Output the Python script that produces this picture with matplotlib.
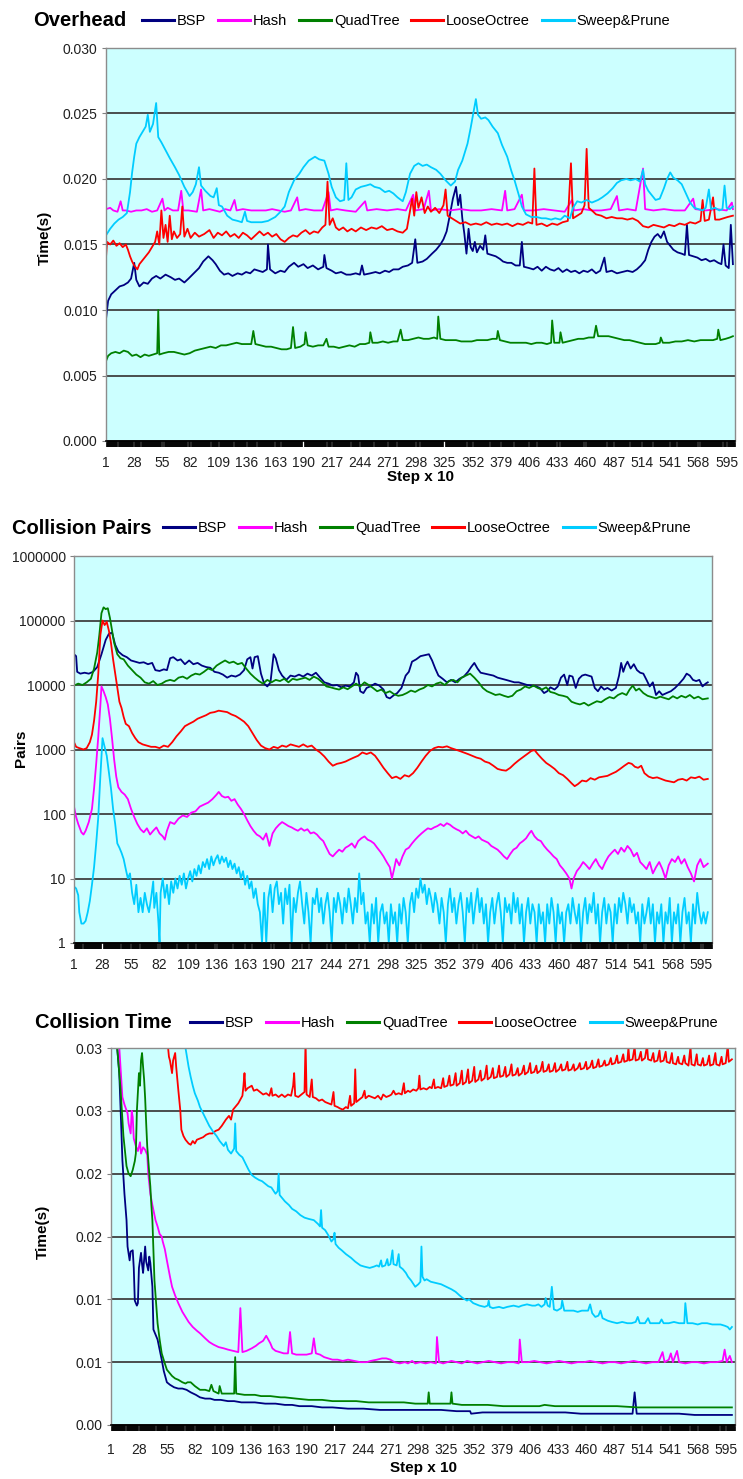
import matplotlib
matplotlib.use('Agg')
import matplotlib.pyplot as plt
from matplotlib import font_manager
from matplotlib.lines import Line2D
from matplotlib.ticker import FixedLocator, NullLocator

# ---------------------------------------------------------------- data
series_names = ['BSP', 'Hash', 'QuadTree', 'LooseOctree', 'Sweep&Prune']
series_colors = ['#000080', '#FF00FF', '#008000', '#FF0000', '#00CCFF']

step_ticks = list(range(1, 596, 27))  # 1, 28, 55, ... 595

# --- Overhead, Time(s)
ovh_yticks = [0.000, 0.005, 0.010, 0.015, 0.020, 0.025, 0.030]
ovh_yticklabels = ['0.000', '0.005', '0.010', '0.015', '0.020', '0.025', '0.030']

ovh_bsp = [(1, .0093), (3, .0107), (6, .0112), (10, .0115), (14, .0118), (18, .0119), (22, .0121), (25, .0124),
           (28, .0136), (30, .0123), (33, .0118), (37, .0121), (41, .0120), (45, .0124), (49, .0126), (53, .0124),
           (58, .0127), (63, .0125), (67, .0123), (71, .0124), (76, .0121), (80, .0124), (85, .0128), (90, .0132),
           (94, .0137), (99, .0141), (103, .0138), (106, .0135), (110, .0130), (114, .0127), (118, .0128),
           (122, .0126), (127, .0128), (131, .0127), (135, .0129), (139, .0128), (143, .0131), (147, .0130),
           (151, .0129), (155, .0131), (156, .0150), (158, .0131), (163, .0128), (168, .0130), (172, .0129),
           (176, .0133), (181, .0136), (185, .0133), (190, .0135), (194, .0132), (199, .0134), (204, .0131),
           (209, .0133), (210, .0142), (212, .0132), (217, .0130), (221, .0128), (226, .0129), (231, .0127),
           (235, .0127), (240, .0128), (244, .0127), (246, .0134), (248, .0127), (254, .0128), (259, .0129),
           (263, .0128), (268, .0130), (272, .0129), (276, .0131), (281, .0131), (285, .0133), (290, .0134),
           (294, .0136), (297, .0154), (299, .0136), (304, .0137), (308, .0139), (313, .0143), (317, .0146),
           (321, .0150), (324, .0154), (327, .0160), (330, .0172), (333, .0185), (336, .0194), (338, .0180),
           (340, .0188), (342, .0170), (344, .0158), (346, .0143), (348, .0162), (350, .0148), (352, .0145),
           (354, .0152), (356, .0144), (359, .0149), (362, .0146), (364, .0157), (366, .0143), (370, .0142),
           (374, .0141), (378, .0139), (381, .0137), (385, .0136), (389, .0136), (393, .0134), (397, .0134),
           (399, .0152), (401, .0133), (406, .0132), (410, .0131), (414, .0133), (418, .0130), (422, .0133),
           (426, .0131), (430, .0130), (434, .0132), (438, .0129), (442, .0131), (446, .0129), (450, .0130),
           (454, .0128), (458, .0130), (462, .0129), (466, .0131), (470, .0128), (474, .0130), (478, .0140),
           (480, .0129), (485, .0130), (490, .0128), (495, .0129), (500, .0130), (505, .0129), (509, .0131),
           (513, .0134), (517, .0138), (520, .0146), (523, .0152), (526, .0156), (529, .0158), (532, .0155),
           (535, .0160), (538, .0152), (541, .0149), (544, .0146), (548, .0144), (552, .0143), (555, .0142),
           (557, .0165), (559, .0142), (563, .0141), (567, .0140), (571, .0138), (575, .0139), (579, .0137),
           (583, .0138), (587, .0136), (590, .0135), (592, .0150), (594, .0134), (597, .0132), (599, .0165),
           (601, .0135)]

ovh_hash = [(1, .0177), (5, .0178), (8, .0176), (12, .0175), (15, .0183), (17, .0176), (20, .0176), (25, .0175),
            (30, .0176), (35, .0176), (40, .0177), (45, .0175), (50, .0176), (55, .0185), (57, .0176), (60, .0178),
            (65, .0176), (70, .0176), (73, .0191), (75, .0176), (80, .0176), (88, .0175), (92, .0192), (94, .0176),
            (100, .0177), (105, .0176), (110, .0175), (115, .0177), (120, .0176), (124, .0184), (126, .0176),
            (132, .0177), (140, .0176), (148, .0176), (154, .0176), (160, .0177), (166, .0176), (172, .0175),
            (178, .0176), (184, .0186), (186, .0176), (192, .0177), (200, .0176), (208, .0176), (214, .0190),
            (216, .0176), (222, .0177), (230, .0176), (240, .0175), (249, .0183), (251, .0176), (260, .0177),
            (270, .0176), (280, .0177), (288, .0176), (295, .0188), (297, .0176), (305, .0177), (310, .0191),
            (312, .0176), (320, .0177), (330, .0176), (340, .0177), (350, .0176), (360, .0176), (370, .0177),
            (380, .0176), (383, .0191), (385, .0176), (392, .0177), (399, .0188), (401, .0176), (410, .0176),
            (420, .0177), (430, .0176), (440, .0175), (447, .0184), (449, .0176), (458, .0177), (466, .0176),
            (475, .0176), (484, .0177), (490, .0187), (492, .0176), (500, .0177), (508, .0176), (515, .0208),
            (517, .0177), (525, .0176), (535, .0177), (545, .0176), (555, .0176), (563, .0185), (565, .0177),
            (575, .0176), (585, .0177), (595, .0176), (600, .0182), (601, .0177)]

ovh_quad = [(1, .0061), (3, .0065), (6, .0067), (10, .0068), (14, .0067), (18, .0069), (22, .0068), (26, .0065),
            (30, .0066), (34, .0064), (38, .0066), (42, .0065), (46, .0066), (50, .0067), (51, .0100), (52, .0066),
            (56, .0067), (61, .0068), (66, .0068), (71, .0067), (76, .0066), (81, .0067), (86, .0069), (91, .0070),
            (96, .0071), (101, .0072), (106, .0071), (111, .0073), (116, .0073), (121, .0074), (126, .0075),
            (131, .0074), (136, .0074), (140, .0074), (142, .0084), (144, .0074), (149, .0073), (154, .0072),
            (159, .0072), (164, .0071), (169, .0070), (174, .0070), (178, .0071), (180, .0087), (182, .0071),
            (187, .0072), (191, .0074), (192, .0083), (194, .0073), (199, .0072), (204, .0073), (209, .0073),
            (212, .0078), (214, .0072), (219, .0072), (224, .0071), (229, .0072), (234, .0073), (239, .0072),
            (244, .0074), (249, .0074), (253, .0075), (254, .0083), (256, .0075), (261, .0075), (266, .0076),
            (271, .0075), (276, .0076), (280, .0076), (283, .0085), (285, .0077), (290, .0077), (295, .0078),
            (300, .0079), (305, .0078), (310, .0078), (315, .0079), (318, .0078), (319, .0095), (321, .0078),
            (326, .0077), (331, .0077), (336, .0077), (341, .0076), (346, .0076), (351, .0076), (356, .0077),
            (361, .0077), (366, .0077), (371, .0078), (375, .0078), (376, .0084), (378, .0077), (383, .0076),
            (388, .0075), (393, .0075), (398, .0075), (403, .0075), (408, .0074), (413, .0075), (418, .0075),
            (423, .0074), (427, .0075), (428, .0092), (430, .0075), (435, .0075), (436, .0083), (438, .0075),
            (443, .0076), (448, .0077), (453, .0078), (458, .0078), (463, .0079), (468, .0079), (470, .0088),
            (472, .0080), (477, .0080), (482, .0080), (487, .0079), (492, .0078), (497, .0077), (502, .0077),
            (507, .0076), (512, .0075), (517, .0074), (522, .0074), (527, .0074), (531, .0075), (532, .0079),
            (534, .0075), (540, .0075), (546, .0076), (552, .0076), (558, .0077), (564, .0076), (570, .0077),
            (576, .0077), (582, .0077), (586, .0078), (587, .0085), (589, .0077), (594, .0078), (598, .0079),
            (601, .0080)]

ovh_loose = [(1, .0140), (2, .0152), (5, .0150), (8, .0153), (11, .0149), (14, .0151), (17, .0148), (20, .0150),
             (22, .0146), (24, .0141), (26, .0137), (28, .0134), (31, .0131), (33, .0135), (36, .0138), (39, .0141),
             (42, .0144), (45, .0148), (48, .0152), (50, .0160), (52, .0150), (54, .0176), (56, .0155), (58, .0165),
             (60, .0152), (62, .0172), (64, .0154), (66, .0160), (69, .0155), (72, .0158), (74, .0179), (76, .0156),
             (79, .0162), (82, .0155), (86, .0159), (90, .0156), (95, .0158), (100, .0161), (104, .0155),
             (108, .0159), (112, .0157), (116, .0160), (120, .0156), (124, .0158), (128, .0155), (132, .0159),
             (136, .0157), (140, .0154), (144, .0157), (148, .0160), (152, .0157), (156, .0159), (160, .0156),
             (164, .0158), (168, .0154), (172, .0152), (176, .0155), (180, .0157), (184, .0156), (188, .0159),
             (192, .0161), (196, .0158), (200, .0160), (204, .0159), (208, .0163), (211, .0165), (213, .0198),
             (215, .0165), (218, .0170), (221, .0163), (224, .0161), (228, .0163), (232, .0160), (236, .0162),
             (240, .0160), (245, .0163), (250, .0161), (255, .0163), (260, .0162), (265, .0164), (270, .0161),
             (275, .0162), (280, .0160), (285, .0159), (289, .0162), (292, .0176), (294, .0185), (296, .0172),
             (298, .0190), (300, .0178), (303, .0186), (306, .0174), (309, .0179), (312, .0175), (316, .0178),
             (320, .0174), (324, .0180), (326, .0192), (328, .0172), (332, .0170), (336, .0168), (340, .0166),
             (345, .0167), (350, .0165), (355, .0166), (360, .0165), (365, .0167), (370, .0165), (375, .0166),
             (380, .0165), (385, .0166), (390, .0164), (395, .0166), (400, .0165), (405, .0167), (409, .0166),
             (411, .0208), (413, .0165), (418, .0166), (423, .0164), (428, .0166), (433, .0165), (438, .0167),
             (443, .0168), (446, .0212), (448, .0170), (452, .0172), (456, .0174), (459, .0180), (461, .0223),
             (463, .0178), (466, .0176), (470, .0173), (475, .0172), (480, .0170), (485, .0171), (490, .0170),
             (495, .0170), (500, .0169), (505, .0170), (510, .0168), (515, .0164), (520, .0163), (525, .0165),
             (530, .0164), (535, .0163), (540, .0165), (545, .0164), (550, .0166), (555, .0165), (560, .0167),
             (565, .0166), (570, .0168), (572, .0184), (574, .0168), (578, .0169), (582, .0186), (584, .0169),
             (588, .0169), (592, .0170), (596, .0171), (601, .0172)]

ovh_sweep = [(1, .0157), (5, .0162), (9, .0166), (13, .0169), (17, .0171), (21, .0174), (24, .0190), (26, .0205),
             (28, .0217), (30, .0227), (33, .0232), (36, .0236), (39, .0240), (41, .0249), (43, .0236), (46, .0242),
             (49, .0258), (51, .0232), (54, .0228), (58, .0222), (62, .0216), (67, .0209), (71, .0203), (76, .0194),
             (81, .0187), (84, .0190), (87, .0196), (90, .0209), (92, .0195), (96, .0191), (101, .0187),
             (104, .0186), (107, .0193), (109, .0180), (112, .0179), (117, .0172), (122, .0169), (127, .0168),
             (131, .0167), (134, .0175), (136, .0168), (140, .0167), (145, .0167), (150, .0167), (156, .0168),
             (163, .0171), (168, .0175), (172, .0179), (176, .0190), (181, .0199), (186, .0204), (190, .0209),
             (195, .0214), (201, .0217), (205, .0215), (210, .0214), (214, .0204), (217, .0194), (221, .0186),
             (225, .0183), (229, .0184), (231, .0212), (233, .0184), (236, .0186), (240, .0192), (245, .0194),
             (250, .0195), (254, .0196), (258, .0194), (263, .0193), (268, .0190), (272, .0191), (276, .0189),
             (280, .0186), (285, .0183), (288, .0190), (292, .0204), (296, .0210), (300, .0212), (304, .0210),
             (308, .0211), (312, .0209), (317, .0207), (321, .0204), (326, .0199), (331, .0195), (335, .0198),
             (338, .0207), (342, .0214), (347, .0227), (350, .0239), (353, .0252), (355, .0261), (357, .0249),
             (360, .0246), (364, .0247), (367, .0245), (371, .0240), (376, .0235), (380, .0226), (385, .0217),
             (389, .0206), (392, .0199), (396, .0188), (399, .0179), (403, .0173), (408, .0171), (413, .0171),
             (418, .0170), (422, .0170), (427, .0169), (431, .0170), (436, .0169), (440, .0172), (445, .0170),
             (448, .0178), (452, .0183), (456, .0182), (461, .0184), (466, .0182), (472, .0184), (476, .0186),
             (481, .0189), (486, .0193), (490, .0197), (494, .0199), (499, .0200), (503, .0199), (508, .0200),
             (512, .0198), (515, .0207), (517, .0196), (520, .0191), (524, .0187), (527, .0184), (531, .0185),
             (535, .0193), (538, .0200), (541, .0205), (544, .0201), (548, .0199), (552, .0196), (556, .0189),
             (560, .0182), (564, .0178), (568, .0177), (572, .0176), (575, .0178), (578, .0192), (580, .0177),
             (584, .0178), (588, .0176), (591, .0177), (593, .0195), (595, .0178), (598, .0177), (601, .0179)]

# --- Collision Pairs (log scale)
pairs_yticks = [1, 10, 100, 1000, 10000, 100000, 1000000]
pairs_yticklabels = ['1', '10', '100', '1000', '10000', '100000', '1000000']

pairs_bsp = [(1, 30000), (3, 28000), (4, 16000), (7, 15000), (11, 15500), (15, 15000), (19, 16000), (23, 19000),
             (27, 30000), (31, 50000), (34, 62000), (37, 65000), (40, 42000), (43, 33000), (47, 29000),
             (51, 27000), (55, 24000), (59, 23000), (63, 22000), (67, 22500), (71, 21000), (75, 22000),
             (78, 17000), (82, 16500), (86, 17500), (89, 17000), (92, 26000), (95, 27000), (99, 24000),
             (102, 25000), (106, 21000), (110, 24000), (114, 21000), (118, 22000), (122, 20000), (126, 19000),
             (130, 18500), (134, 16000), (138, 15500), (142, 14500), (146, 13000), (150, 14000), (154, 13500),
             (158, 14500), (162, 17000), (165, 25000), (168, 27000), (170, 18000), (172, 27000), (175, 28000),
             (178, 15000), (181, 10500), (184, 9500), (187, 11000), (190, 30000), (192, 26000), (195, 17000),
             (198, 14000), (202, 12000), (206, 14000), (210, 13500), (214, 14500), (218, 13500), (222, 15000),
             (226, 14000), (230, 15500), (234, 13000), (238, 11000), (242, 10500), (246, 9800), (250, 10000),
             (254, 9200), (258, 9800), (262, 9500), (266, 11000), (268, 15500), (270, 14000), (272, 8000),
             (275, 7500), (278, 9000), (282, 9600), (286, 10500), (290, 9800), (294, 8500), (297, 6500),
             (300, 6200), (304, 7000), (307, 7500), (311, 9000), (315, 14000), (318, 16000), (321, 23000),
             (325, 25000), (329, 28000), (333, 29000), (337, 30000), (340, 24000), (343, 18000), (346, 14000),
             (350, 12500), (354, 11000), (358, 12000), (362, 11000), (366, 12500), (370, 13500), (374, 16000),
             (377, 19000), (380, 22000), (383, 18000), (386, 15500), (390, 15000), (394, 14500), (398, 14000),
             (402, 13000), (406, 12500), (410, 12000), (414, 11500), (418, 11000), (422, 11000), (426, 10500),
             (430, 10000), (434, 9800), (438, 9600), (442, 9000), (446, 7500), (449, 8000), (452, 9200),
             (456, 8500), (459, 9500), (462, 13000), (465, 14500), (468, 10000), (470, 14000), (473, 13500),
             (476, 9000), (479, 12500), (482, 14000), (485, 14500), (488, 14000), (491, 13500), (494, 9000),
             (497, 8000), (500, 9500), (503, 8500), (506, 9000), (510, 8200), (514, 9000), (517, 14000),
             (519, 22000), (521, 16000), (523, 20000), (525, 23000), (528, 18000), (531, 21000), (534, 17000),
             (537, 15500), (540, 15000), (543, 12000), (546, 9500), (549, 11000), (552, 7000), (555, 8000),
             (558, 7000), (562, 7500), (566, 8000), (570, 9000), (574, 10500), (578, 12500), (581, 15000),
             (584, 14000), (587, 12000), (590, 11500), (593, 12000), (596, 9500), (599, 10500), (601, 11000)]

pairs_hash = [(1, 130), (3, 90), (5, 70), (8, 52), (10, 48), (12, 55), (15, 75), (18, 120), (20, 250), (22, 600),
              (24, 1600), (26, 5000), (27, 9500), (29, 8000), (31, 6500), (33, 5000), (35, 3000), (37, 1500),
              (39, 700), (41, 380), (43, 260), (46, 220), (49, 200), (52, 170), (55, 120), (58, 90), (61, 70),
              (64, 58), (67, 52), (70, 60), (73, 48), (76, 55), (79, 62), (82, 50), (85, 45), (87, 40), (89, 55),
              (92, 75), (96, 70), (100, 85), (104, 95), (108, 90), (112, 105), (116, 110), (120, 130), (124, 140),
              (128, 150), (132, 170), (136, 200), (138, 220), (141, 190), (144, 180), (147, 185), (150, 160),
              (153, 170), (156, 140), (159, 120), (162, 100), (165, 80), (168, 65), (171, 55), (174, 48),
              (177, 45), (180, 40), (183, 50), (186, 32), (189, 50), (192, 60), (195, 68), (198, 75), (201, 70),
              (204, 65), (207, 62), (210, 58), (213, 55), (216, 60), (219, 55), (222, 58), (225, 50), (228, 52),
              (231, 48), (234, 42), (237, 38), (240, 30), (243, 24), (246, 22), (249, 25), (252, 28), (255, 26),
              (258, 30), (261, 32), (264, 35), (267, 30), (270, 38), (273, 42), (276, 45), (279, 40), (282, 38),
              (285, 35), (288, 30), (291, 26), (294, 22), (297, 18), (300, 15), (302, 10), (304, 14), (306, 20),
              (309, 16), (312, 22), (315, 28), (318, 30), (321, 35), (324, 40), (327, 45), (330, 50), (333, 55),
              (336, 60), (339, 58), (342, 62), (345, 65), (348, 70), (351, 65), (354, 72), (357, 68), (360, 62),
              (363, 58), (366, 55), (369, 50), (372, 55), (375, 48), (378, 45), (381, 42), (384, 45), (387, 40),
              (390, 38), (393, 36), (396, 32), (399, 30), (402, 28), (405, 25), (408, 22), (411, 20), (414, 24),
              (417, 28), (420, 30), (423, 35), (426, 38), (429, 42), (432, 50), (434, 55), (437, 45), (440, 40),
              (443, 38), (446, 32), (449, 28), (452, 25), (455, 22), (458, 20), (461, 16), (464, 14), (467, 12),
              (470, 10), (472, 7), (474, 10), (477, 13), (480, 15), (483, 18), (486, 16), (489, 14), (492, 17),
              (495, 20), (498, 16), (501, 14), (504, 18), (507, 22), (510, 25), (513, 28), (516, 24), (519, 30),
              (522, 26), (525, 32), (528, 28), (531, 22), (534, 25), (537, 18), (540, 16), (543, 14), (546, 18),
              (549, 12), (552, 15), (555, 18), (558, 14), (561, 10), (564, 16), (567, 20), (570, 18), (573, 22),
              (576, 17), (579, 20), (582, 15), (585, 12), (588, 9), (591, 16), (594, 20), (597, 15), (601, 17)]

pairs_quad = [(1, 9800), (5, 10500), (9, 10000), (13, 11000), (17, 12500), (20, 18000), (23, 32000), (25, 60000),
              (27, 130000), (29, 160000), (31, 150000), (33, 155000), (35, 110000), (37, 70000), (39, 45000),
              (42, 30000), (45, 26000), (48, 25000), (52, 20000), (56, 17000), (60, 14500), (64, 13000),
              (68, 11000), (72, 10500), (76, 11500), (80, 10000), (84, 10500), (88, 11500), (92, 12000),
              (96, 11500), (100, 13000), (104, 13500), (108, 12500), (112, 14000), (116, 15000), (120, 14500),
              (124, 16000), (128, 18000), (132, 17000), (136, 20000), (140, 22000), (144, 24000), (148, 22000),
              (152, 23000), (156, 21000), (160, 22000), (164, 18000), (168, 15000), (172, 13000), (176, 11500),
              (180, 10500), (184, 12000), (188, 11000), (192, 12000), (196, 11500), (200, 12500), (204, 11000),
              (208, 12500), (212, 12000), (216, 12500), (220, 13000), (224, 12000), (228, 13500), (232, 12500),
              (236, 11000), (240, 9500), (244, 9200), (248, 8800), (252, 8500), (256, 9200), (260, 8600),
              (264, 9500), (268, 10500), (272, 9500), (276, 11000), (280, 10000), (284, 9000), (288, 8000),
              (292, 8500), (296, 7500), (300, 8000), (304, 7200), (308, 6800), (312, 7000), (316, 7500),
              (320, 8200), (324, 7800), (328, 8500), (332, 9000), (336, 10000), (340, 9500), (344, 10500),
              (348, 11000), (352, 10000), (356, 11500), (360, 12000), (364, 11000), (368, 13000), (372, 14000),
              (376, 15000), (380, 13000), (384, 11000), (388, 9000), (392, 8000), (396, 7500), (400, 7000),
              (404, 7200), (408, 6800), (412, 6500), (416, 6800), (420, 8000), (424, 8500), (428, 9500),
              (432, 9000), (436, 9800), (440, 9000), (444, 8500), (448, 9200), (452, 7800), (456, 7500),
              (460, 7000), (464, 6800), (468, 6500), (472, 5500), (476, 5200), (480, 5000), (484, 5300),
              (488, 4800), (492, 5200), (496, 5600), (500, 5400), (504, 6000), (508, 6500), (512, 6200),
              (516, 7000), (520, 7500), (524, 7000), (527, 8500), (530, 9800), (533, 8200), (536, 8800),
              (540, 7500), (544, 6800), (548, 6500), (552, 6200), (556, 6600), (560, 6300), (564, 6000),
              (568, 6700), (572, 6200), (576, 6800), (580, 6400), (584, 7000), (588, 6200), (592, 6600),
              (596, 6000), (601, 6200)]

pairs_loose = [(1, 1300), (3, 1100), (6, 1050), (10, 1000), (13, 1050), (16, 1300), (18, 1700), (20, 2800),
               (22, 5500), (24, 15000), (26, 60000), (28, 100000), (30, 85000), (32, 95000), (34, 70000),
               (36, 45000), (38, 25000), (40, 15000), (42, 9000), (44, 5500), (46, 4400), (48, 3200), (50, 2500),
               (53, 2300), (56, 1800), (59, 1500), (62, 1300), (66, 1200), (70, 1150), (74, 1100), (78, 1100),
               (82, 1050), (86, 1150), (90, 1100), (94, 1300), (98, 1600), (102, 1900), (106, 2300), (110, 2500),
               (114, 2700), (118, 3000), (122, 3200), (126, 3400), (130, 3700), (134, 3800), (138, 4000),
               (142, 3900), (146, 3800), (150, 3500), (154, 3300), (158, 3000), (162, 2700), (166, 2300),
               (170, 1800), (174, 1400), (178, 1150), (182, 1050), (186, 1000), (190, 1100), (194, 1050),
               (198, 1150), (202, 1100), (206, 1200), (210, 1150), (214, 1100), (218, 1200), (222, 1100),
               (226, 1150), (230, 1000), (234, 900), (238, 780), (242, 650), (246, 560), (250, 600), (254, 620),
               (258, 650), (262, 700), (266, 750), (270, 800), (274, 900), (278, 850), (282, 900), (286, 800),
               (290, 650), (294, 520), (298, 430), (302, 360), (306, 380), (310, 350), (314, 400), (318, 380),
               (322, 430), (326, 520), (330, 650), (334, 800), (338, 950), (342, 1050), (346, 1100), (350, 1080),
               (354, 1120), (358, 1050), (362, 1000), (366, 950), (370, 900), (374, 850), (378, 800), (382, 750),
               (386, 720), (390, 650), (394, 620), (398, 560), (402, 500), (406, 480), (410, 470), (414, 520),
               (418, 600), (422, 680), (426, 760), (430, 850), (434, 950), (437, 980), (440, 850), (444, 720),
               (448, 620), (452, 560), (456, 500), (460, 430), (464, 400), (468, 350), (472, 300), (475, 270),
               (478, 290), (482, 330), (486, 320), (490, 360), (494, 340), (498, 370), (502, 380), (506, 390),
               (510, 420), (514, 450), (518, 500), (522, 560), (526, 620), (529, 600), (532, 540), (535, 520),
               (538, 560), (541, 430), (545, 380), (549, 360), (553, 370), (557, 350), (561, 330), (565, 320),
               (569, 310), (573, 340), (577, 350), (581, 330), (585, 370), (589, 360), (593, 380), (597, 340),
               (601, 350)]

pairs_sweep = [(1, 7.5), (3, 7), (5, 5.5), (6, 3), (8, 2), (10, 2), (12, 2.2), (14, 3), (16, 4.5), (18, 8),
               (20, 15), (22, 35), (24, 90), (26, 400), (28, 1500), (30, 1100), (32, 800), (34, 450), (36, 250),
               (38, 120), (40, 70), (42, 35), (44, 30), (46, 25), (48, 20), (50, 14), (52, 10), (54, 12), (56, 6),
               (58, 4), (60, 8), (62, 3), (64, 5), (66, 3), (68, 6), (70, 4), (72, 3), (74, 5), (76, 9), (77, 3.5),
               (79, 6), (81, 2), (82, 1), (83, 6), (85, 10), (87, 5), (89, 8), (91, 4), (93, 9), (95, 6), (97, 10),
               (99, 7), (101, 11), (103, 8), (105, 12), (107, 7), (109, 10), (111, 13), (113, 9), (115, 14),
               (117, 11), (119, 16), (121, 12), (123, 18), (125, 15), (127, 20), (129, 14), (131, 22), (133, 16),
               (135, 20), (137, 23), (139, 17), (141, 22), (143, 18), (145, 21), (147, 15), (149, 19), (151, 14),
               (153, 17), (155, 12), (157, 15), (159, 10), (161, 13), (163, 8), (165, 11), (167, 7), (169, 9),
               (171, 5), (173, 7), (175, 4), (177, 3), (179, 1), (181, 6), (183, 1), (185, 5), (187, 8), (189, 3),
               (191, 7), (193, 9), (195, 4), (197, 6), (199, 2), (201, 7), (203, 4), (205, 8), (207, 1), (209, 5),
               (211, 3), (213, 6), (215, 9), (217, 4), (219, 2), (221, 6), (223, 3), (225, 1), (227, 5), (229, 4),
               (231, 7), (233, 3), (235, 5), (237, 2), (239, 4), (241, 6), (243, 3), (245, 1), (247, 5), (249, 3),
               (251, 6), (253, 4), (255, 2), (257, 5), (259, 3), (261, 7), (263, 4), (265, 2), (267, 5), (269, 3),
               (271, 12), (273, 4), (275, 6), (277, 2), (279, 3), (281, 1), (283, 4), (285, 2), (287, 5), (289, 1),
               (291, 3), (293, 4), (295, 2), (297, 3), (299, 1), (301, 4), (303, 2), (305, 3), (307, 1), (309, 4),
               (311, 2), (313, 5), (315, 3), (317, 1), (319, 4), (321, 6), (323, 3), (325, 7), (327, 5), (329, 10),
               (331, 6), (333, 8), (335, 4), (337, 7), (339, 5), (341, 3), (343, 6), (345, 4), (347, 2), (349, 5),
               (351, 3), (353, 1), (355, 4), (357, 7), (359, 3), (361, 5), (363, 2), (365, 4), (367, 6), (369, 3),
               (371, 1), (373, 5), (375, 3), (377, 6), (379, 2), (381, 4), (383, 7), (385, 3), (387, 5), (389, 2),
               (391, 4), (393, 1), (395, 3), (397, 5), (399, 2), (401, 4), (403, 6), (405, 3), (407, 1), (409, 5),
               (411, 3), (413, 4), (415, 2), (417, 6), (419, 3), (421, 5), (423, 2), (425, 4), (427, 1), (429, 3),
               (431, 5), (433, 2), (435, 4), (437, 3), (439, 1), (441, 4), (443, 2), (445, 3), (447, 1), (449, 4),
               (451, 2), (453, 5), (455, 3), (457, 1), (459, 4), (461, 2), (463, 3), (465, 1), (467, 3), (469, 4),
               (471, 2), (473, 5), (475, 3), (477, 2), (479, 4), (481, 1), (483, 3), (485, 5), (487, 2), (489, 4),
               (491, 3), (493, 6), (495, 2), (497, 4), (499, 1), (501, 3), (503, 5), (505, 2), (507, 4), (509, 3),
               (511, 1), (513, 4), (515, 2), (517, 5), (519, 3), (521, 6), (523, 4), (525, 2), (527, 5), (529, 3),
               (531, 4), (533, 2), (535, 3), (537, 1), (539, 4), (541, 2), (543, 3), (545, 5), (547, 2), (549, 4),
               (551, 1), (553, 3), (555, 2), (557, 4), (559, 1), (561, 3), (563, 2), (565, 5), (567, 1), (569, 3),
               (571, 2), (573, 4), (575, 1), (577, 3), (579, 5), (581, 2), (583, 3), (585, 1), (587, 4), (589, 2),
               (591, 6), (593, 3), (595, 2), (597, 3), (599, 2), (601, 3)]

# --- Collision Time, Time(s)
ctime_yticks = [0.000, 0.005, 0.010, 0.015, 0.020, 0.025, 0.030]
ctime_yticklabels = ['0.00', '0.01', '0.01', '0.02', '0.02', '0.03', '0.03']

ctime_bsp = [(1, .040), (4, .031), (7, .030), (9, .028), (11, .0235), (12, .0211), (14, .0184), (16, .0163),
             (17, .0142), (19, .0131), (20, .0138), (22, .0139), (23, .0125), (24, .0099), (26, .0095),
             (27, .0097), (28, .0125), (30, .0137), (31, .0128), (32, .0121), (34, .0142), (35, .0130),
             (37, .0123), (38, .0134), (39, .0129), (41, .0110), (42, .0076), (44, .0072), (46, .0068),
             (48, .0060), (50, .0052), (52, .0043), (55, .0034), (58, .0032), (62, .0030), (66, .0029),
             (70, .0029), (74, .0028), (78, .0026), (83, .0024), (87, .0022), (92, .0021), (97, .0021),
             (101, .0020), (107, .0020), (114, .0019), (120, .0019), (127, .0018), (133, .0018), (140, .0018),
             (150, .0017), (160, .0017), (169, .0016), (176, .0016), (183, .0015), (195, .0015), (205, .0014),
             (215, .0014), (230, .0013), (245, .0013), (261, .0012), (275, .0012), (290, .0012), (307, .0012),
             (320, .0012), (335, .0011), (348, .0011), (349, .0009), (360, .0010), (375, .0010), (390, .0010),
             (398, .0010), (410, .0010), (425, .0010), (440, .0010), (455, .0009), (470, .0009), (476, .0009),
             (490, .0009), (505, .0009), (507, .0026), (509, .0009), (520, .0009), (536, .0009), (550, .0009),
             (565, .0008), (580, .0008), (595, .0008), (601, .0008)]

ctime_hash = [(1, .050), (6, .034), (9, .030), (12, .0261), (14, .0255), (17, .0248), (18, .0240), (20, .0232),
              (21, .0250), (22, .0245), (23, .0228), (25, .0222), (27, .0218), (29, .0225), (30, .0216),
              (32, .0221), (34, .0219), (36, .0215), (37, .0200), (39, .0184), (41, .0175), (44, .0163),
              (46, .0158), (48, .0152), (50, .0150), (51, .0146), (53, .0140), (55, .0131), (58, .0118),
              (60, .0110), (63, .0103), (66, .0097), (70, .0090), (73, .0086), (76, .0082), (80, .0078),
              (84, .0075), (87, .0073), (92, .0069), (96, .0066), (100, .0064), (105, .0062), (110, .0061),
              (114, .0060), (119, .0059), (124, .0058), (126, .0093), (128, .0058), (132, .0059), (137, .0061),
              (141, .0063), (144, .0065), (148, .0067), (151, .0071), (153, .0068), (155, .0065), (157, .0061),
              (160, .0059), (164, .0058), (168, .0057), (172, .0057), (174, .0074), (176, .0057), (180, .0056),
              (185, .0056), (190, .0056), (195, .0057), (197, .0069), (199, .0057), (203, .0056), (207, .0054),
              (211, .0053), (215, .0052), (220, .0052), (225, .0051), (230, .0052), (236, .0051), (242, .0050),
              (248, .0050), (252, .0051), (258, .0052), (263, .0053), (267, .0053), (271, .0052), (275, .0050),
              (280, .0049), (285, .0050), (288, .0049), (292, .0051), (295, .0049), (300, .0050), (305, .0049),
              (310, .0050), (315, .0049), (316, .0070), (318, .0050), (322, .0049), (326, .0050), (330, .0051),
              (335, .0050), (340, .0049), (345, .0051), (350, .0050), (355, .0049), (360, .0050), (366, .0051),
              (372, .0050), (378, .0049), (384, .0050), (390, .0050), (395, .0049), (396, .0068), (398, .0050),
              (404, .0050), (410, .0051), (416, .0050), (422, .0049), (428, .0050), (434, .0051), (440, .0050),
              (446, .0049), (452, .0050), (458, .0050), (464, .0051), (470, .0050), (476, .0049), (482, .0050),
              (488, .0050), (494, .0049), (500, .0050), (506, .0051), (512, .0050), (518, .0049), (524, .0050),
              (530, .0050), (534, .0058), (536, .0050), (540, .0052), (542, .0057), (544, .0050), (548, .0059),
              (550, .0050), (556, .0049), (562, .0050), (568, .0050), (574, .0049), (580, .0050), (586, .0050),
              (592, .0051), (594, .0060), (596, .0050), (599, .0055), (601, .0050)]

ctime_quad = [(1, .045), (5, .032), (7, .030), (10, .027), (13, .023), (16, .0206), (18, .0200), (20, .0198),
              (22, .0203), (24, .0210), (25, .0216), (26, .0250), (27, .0265), (28, .0280), (29, .0270),
              (30, .0290), (31, .0296), (32, .0285), (33, .0275), (34, .0260), (35, .0240), (36, .0222),
              (38, .0200), (39, .0190), (40, .0175), (41, .0163), (43, .0115), (46, .0081), (48, .0068),
              (50, .0057), (53, .0049), (55, .0044), (58, .0041), (60, .0039), (63, .0037), (66, .0036),
              (70, .0034), (73, .0033), (75, .0034), (78, .0034), (82, .0031), (87, .0028), (92, .0028),
              (96, .0027), (98, .0032), (100, .0027), (105, .0025), (106, .0031), (108, .0025), (114, .0025),
              (120, .0025), (121, .0054), (122, .0025), (130, .0024), (140, .0024), (146, .0023), (155, .0023),
              (165, .0022), (169, .0022), (180, .0021), (192, .0020), (205, .0020), (215, .0019), (225, .0019),
              (238, .0019), (250, .0018), (261, .0018), (270, .0018), (284, .0018), (295, .0017), (307, .0017),
              (308, .0026), (309, .0017), (320, .0017), (329, .0017), (330, .0026), (331, .0017), (340, .0016),
              (352, .0016), (365, .0016), (380, .0015), (398, .0015), (415, .0015), (420, .0016), (430, .0015),
              (444, .0015), (460, .0015), (475, .0015), (490, .0015), (510, .0014), (536, .0014), (560, .0014),
              (580, .0014), (601, .0014)]

ctime_loose = [(1, .080), (30, .050), (52, .033), (55, .031), (57, .0293), (58, .0290), (59, .0285), (60, .0280),
               (61, .0290), (63, .0296), (64, .0285), (66, .0267), (68, .0250), (69, .0235), (71, .0230),
               (73, .0227), (76, .0224), (78, .0223), (80, .0226), (82, .0224), (84, .0227), (87, .0228),
               (90, .0229), (93, .0231), (96, .0232), (99, .0232), (102, .0234), (105, .0235), (108, .0238),
               (112, .0243), (115, .0246), (117, .0243), (119, .0251), (122, .0254), (124, .0256), (126, .0259),
               (128, .0262), (129, .0270), (130, .0280), (131, .0266), (133, .0268), (135, .0269), (137, .0270),
               (139, .0266), (142, .0267), (145, .0265), (148, .0263), (151, .0264), (154, .0262), (156, .0268),
               (157, .0262), (160, .0263), (163, .0261), (166, .0263), (169, .0261), (172, .0263), (175, .0262),
               (177, .0270), (178, .0280), (179, .0262), (182, .0261), (185, .0263), (188, .0265), (189, .0305),
               (190, .0263), (193, .0261), (195, .0275), (196, .0261), (199, .0260), (202, .0258), (205, .0259),
               (208, .0257), (211, .0256), (214, .0255), (216, .0265), (217, .0254), (220, .0253), (222, .0252),
               (225, .0251), (228, .0253), (230, .0252), (232, .0262), (233, .0254), (236, .0256), (237, .0283),
               (238, .0257), (241, .0259), (244, .0261), (246, .0266), (247, .0260), (250, .0262), (253, .0261),
               (256, .0260), (259, .0262), (262, .0259), (264, .0263), (267, .0261), (270, .0262), (272, .0263),
               (274, .0266), (276, .0263), (279, .0264), (282, .0263), (284, .0272), (285, .0264), (288, .0266),
               (290, .0265), (293, .0267), (296, .0266), (298, .0268), (299, .0278), (300, .0267), (303, .0268),
               (306, .0267), (309, .0269), (311, .0268), (313, .0275), (314, .0268), (317, .0269), (320, .0268),
               (322, .0276), (323, .0269), (326, .0270), (328, .0278), (329, .0270), (332, .0271), (334, .0280),
               (335, .0270), (338, .0272), (340, .0282), (341, .0271), (344, .0273), (346, .0283), (347, .0272),
               (350, .0274), (352, .0285), (353, .0273), (356, .0275), (358, .0282), (359, .0274), (362, .0276),
               (364, .0286), (365, .0275), (368, .0277), (370, .0284), (371, .0276), (374, .0277), (376, .0286),
               (377, .0277), (380, .0278), (382, .0285), (383, .0277), (386, .0279), (388, .0287), (389, .0278),
               (392, .0279), (394, .0284), (395, .0278), (398, .0280), (400, .0286), (401, .0279), (404, .0281),
               (406, .0288), (407, .0280), (410, .0281), (412, .0286), (413, .0280), (416, .0282), (418, .0289),
               (419, .0281), (422, .0282), (424, .0287), (425, .0281), (428, .0282), (430, .0288), (431, .0281),
               (434, .0283), (436, .0287), (437, .0282), (440, .0283), (442, .0289), (443, .0282), (446, .0283),
               (448, .0287), (449, .0282), (452, .0284), (454, .0288), (455, .0283), (458, .0284), (460, .0289),
               (461, .0283), (464, .0285), (466, .0290), (467, .0284), (470, .0285), (472, .0291), (473, .0285),
               (476, .0286), (478, .0290), (479, .0286), (482, .0287), (484, .0292), (485, .0287), (488, .0288),
               (490, .0294), (491, .0288), (494, .0289), (496, .0295), (497, .0289), (500, .0290), (501, .0300),
               (502, .0290), (505, .0291), (507, .0301), (508, .0290), (511, .0291), (513, .0297), (514, .0290),
               (517, .0292), (519, .0302), (520, .0291), (523, .0290), (525, .0296), (526, .0289), (529, .0290),
               (531, .0298), (532, .0289), (535, .0290), (537, .0297), (538, .0289), (541, .0288), (543, .0296),
               (544, .0288), (547, .0287), (549, .0293), (550, .0288), (553, .0287), (555, .0294), (556, .0288),
               (559, .0286), (561, .0301), (562, .0287), (565, .0286), (567, .0295), (568, .0287), (571, .0286),
               (573, .0292), (574, .0286), (577, .0287), (579, .0294), (580, .0286), (583, .0287), (585, .0296),
               (586, .0287), (589, .0286), (591, .0293), (592, .0287), (595, .0288), (597, .0302), (598, .0289),
               (601, .0291)]

ctime_sweep = [(1, .060), (40, .045), (70, .0320), (73, .030), (76, .0285), (78, .0277), (80, .0270), (82, .0264),
               (85, .0258), (87, .0253), (90, .0248), (93, .0243), (96, .0238), (100, .0233), (103, .0230),
               (106, .0226), (110, .0222), (112, .0225), (114, .0219), (117, .0216), (120, .0220), (121, .0240),
               (122, .0218), (125, .0215), (128, .0213), (131, .0208), (134, .0203), (137, .0199), (140, .0197),
               (144, .0195), (147, .0194), (150, .0192), (153, .0190), (156, .0189), (160, .0184), (162, .0186),
               (163, .0200), (164, .0183), (167, .0180), (169, .0178), (173, .0175), (176, .0172), (180, .0170),
               (184, .0167), (188, .0165), (192, .0164), (197, .0163), (201, .0160), (203, .0158), (204, .0171),
               (205, .0157), (208, .0155), (211, .0151), (214, .0146), (216, .0148), (217, .0153), (218, .0144),
               (221, .0141), (224, .0139), (228, .0136), (233, .0133), (237, .0130), (242, .0127), (246, .0126),
               (251, .0125), (255, .0126), (258, .0127), (260, .0126), (262, .0131), (263, .0126), (266, .0127),
               (268, .0132), (269, .0127), (271, .0128), (273, .0139), (274, .0128), (277, .0127), (279, .0136),
               (280, .0126), (283, .0124), (286, .0121), (288, .0118), (291, .0115), (295, .0110), (298, .0112),
               (300, .0114), (301, .0142), (302, .0118), (304, .0115), (306, .0116), (310, .0114), (315, .0113),
               (320, .0112), (325, .0110), (330, .0108), (334, .0106), (338, .0103), (341, .0101), (345, .0099),
               (347, .0100), (351, .0097), (357, .0095), (362, .0094), (365, .0095), (366, .0099), (367, .0094),
               (370, .0093), (376, .0094), (380, .0093), (384, .0094), (390, .0095), (395, .0094), (398, .0095),
               (403, .0096), (408, .0095), (411, .0095), (414, .0096), (417, .0094), (420, .0096), (421, .0101),
               (423, .0095), (425, .0094), (427, .0110), (429, .0092), (432, .0091), (436, .0093), (437, .0099),
               (439, .0091), (443, .0091), (448, .0091), (452, .0090), (456, .0091), (460, .0091), (462, .0091),
               (464, .0096), (466, .0089), (469, .0086), (472, .0087), (474, .0091), (476, .0085), (481, .0083),
               (485, .0082), (490, .0081), (495, .0082), (500, .0081), (504, .0081), (508, .0082), (510, .0086),
               (512, .0081), (517, .0081), (520, .0085), (522, .0081), (527, .0081), (531, .0081), (533, .0084),
               (535, .0081), (540, .0081), (545, .0082), (550, .0081), (555, .0081), (556, .0097), (558, .0081),
               (563, .0081), (568, .0080), (572, .0081), (577, .0081), (582, .0080), (586, .0080), (590, .0080),
               (594, .0079), (597, .0078), (599, .0076), (601, .0078)]

# ---------------------------------------------------------------- fonts
installed = {f.name for f in font_manager.fontManager.ttflist}
tick_font = 'Liberation Sans Narrow' if 'Liberation Sans Narrow' in installed else 'Liberation Sans'
tick_size = 11.5 if tick_font == 'Liberation Sans Narrow' else 10
plt.rcParams['font.family'] = ['Liberation Sans', 'DejaVu Sans']

# ---------------------------------------------------------------- figure
W, H = 743, 1479
fig = plt.figure(figsize=(W / 100, H / 100), dpi=100)
fig.patch.set_facecolor('white')


def fx(px):
    return px / W


def fy(py):
    return 1 - py / H


def panel(box, title, title_x, legend_x, title_y, series, yticks, yticklabels, xmax, log=False, xpad=11):
    left, top, right, bottom = box
    ax = fig.add_axes([fx(left), fy(bottom), (right - left) / W, (bottom - top) / H])
    ax.set_facecolor('#CCFFFF')

    for pts, color, name in zip(series, series_colors, series_names):
        xs, ys = zip(*pts)
        ax.plot(xs, ys, color=color, lw=1.3, label=name)

    if log:
        ax.set_yscale('log')
    ax.set_ylim(yticks[0], yticks[-1])
    ax.set_xlim(1, xmax)
    ax.yaxis.set_major_locator(FixedLocator(yticks))
    ax.yaxis.set_minor_locator(NullLocator())
    ax.set_yticklabels(yticklabels, fontfamily=tick_font, fontsize=tick_size, color='#202020')
    ax.grid(axis='y', color='#404040', lw=1.3)
    ax.set_axisbelow(True)

    ax.xaxis.set_major_locator(FixedLocator(step_ticks))
    ax.set_xticklabels([str(s) for s in step_ticks], fontfamily=tick_font, fontsize=tick_size,
                       color='#202020')
    ax.xaxis.set_minor_locator(FixedLocator(list(range(1, xmax + 1))))
    ax.tick_params(axis='x', which='major', length=0, pad=xpad)
    ax.tick_params(axis='x', which='minor', length=4, width=1.2, color='black', direction='out')
    ax.tick_params(axis='y', which='major', length=3, width=0.8, color='#808080', pad=3)

    for side in ('left', 'top', 'right'):
        ax.spines[side].set_color('#8c8c8c')
        ax.spines[side].set_linewidth(1.0)
    ax.spines['bottom'].set_color('black')
    ax.spines['bottom'].set_linewidth(1.2)

    fig.text(fx(title_x), fy(title_y), title, fontsize=14.5, fontweight='bold', ha='left', va='center')
    handles = [Line2D([], [], color=c, lw=2.2) for c in series_colors]
    ax.legend(handles, series_names, ncol=5, loc='center left', bbox_to_anchor=(fx(legend_x), fy(title_y)),
              bbox_transform=fig.transFigure, frameon=False, fontsize=10.5, handlelength=2.2,
              handletextpad=0.2, columnspacing=0.8, borderpad=0, borderaxespad=0)
    return ax


# Overhead
panel((106, 48, 735, 441), 'Overhead', 33, 142, 21,
      [ovh_bsp, ovh_hash, ovh_quad, ovh_loose, ovh_sweep], ovh_yticks, ovh_yticklabels, 603)
fig.text(fx(45), fy(238), 'Time(s)', rotation=90, fontsize=11, fontweight='bold', ha='center', va='center')
fig.text(fx(420), fy(477), 'Step x 10', fontsize=11, fontweight='bold', ha='center', va='center')

# Collision Pairs
panel((74, 556, 712, 943), 'Collision Pairs', 12, 163, 528,
      [pairs_bsp, pairs_hash, pairs_quad, pairs_loose, pairs_sweep], pairs_yticks, pairs_yticklabels, 605,
      log=True)
fig.text(fx(21), fy(748), 'Pairs', rotation=90, fontsize=11, fontweight='bold', ha='center', va='center')

# Collision Time
panel((111, 1048, 735, 1425), 'Collision Time', 35, 190, 1023,
      [ctime_bsp, ctime_hash, ctime_quad, ctime_loose, ctime_sweep], ctime_yticks, ctime_yticklabels, 604,
      xpad=13)
fig.text(fx(43), fy(1232), 'Time(s)', rotation=90, fontsize=11, fontweight='bold', ha='center', va='center')
fig.text(fx(423), fy(1468), 'Step x 10', fontsize=11, fontweight='bold', ha='center', va='center')

fig.savefig('out.png', dpi=100, facecolor='white')
